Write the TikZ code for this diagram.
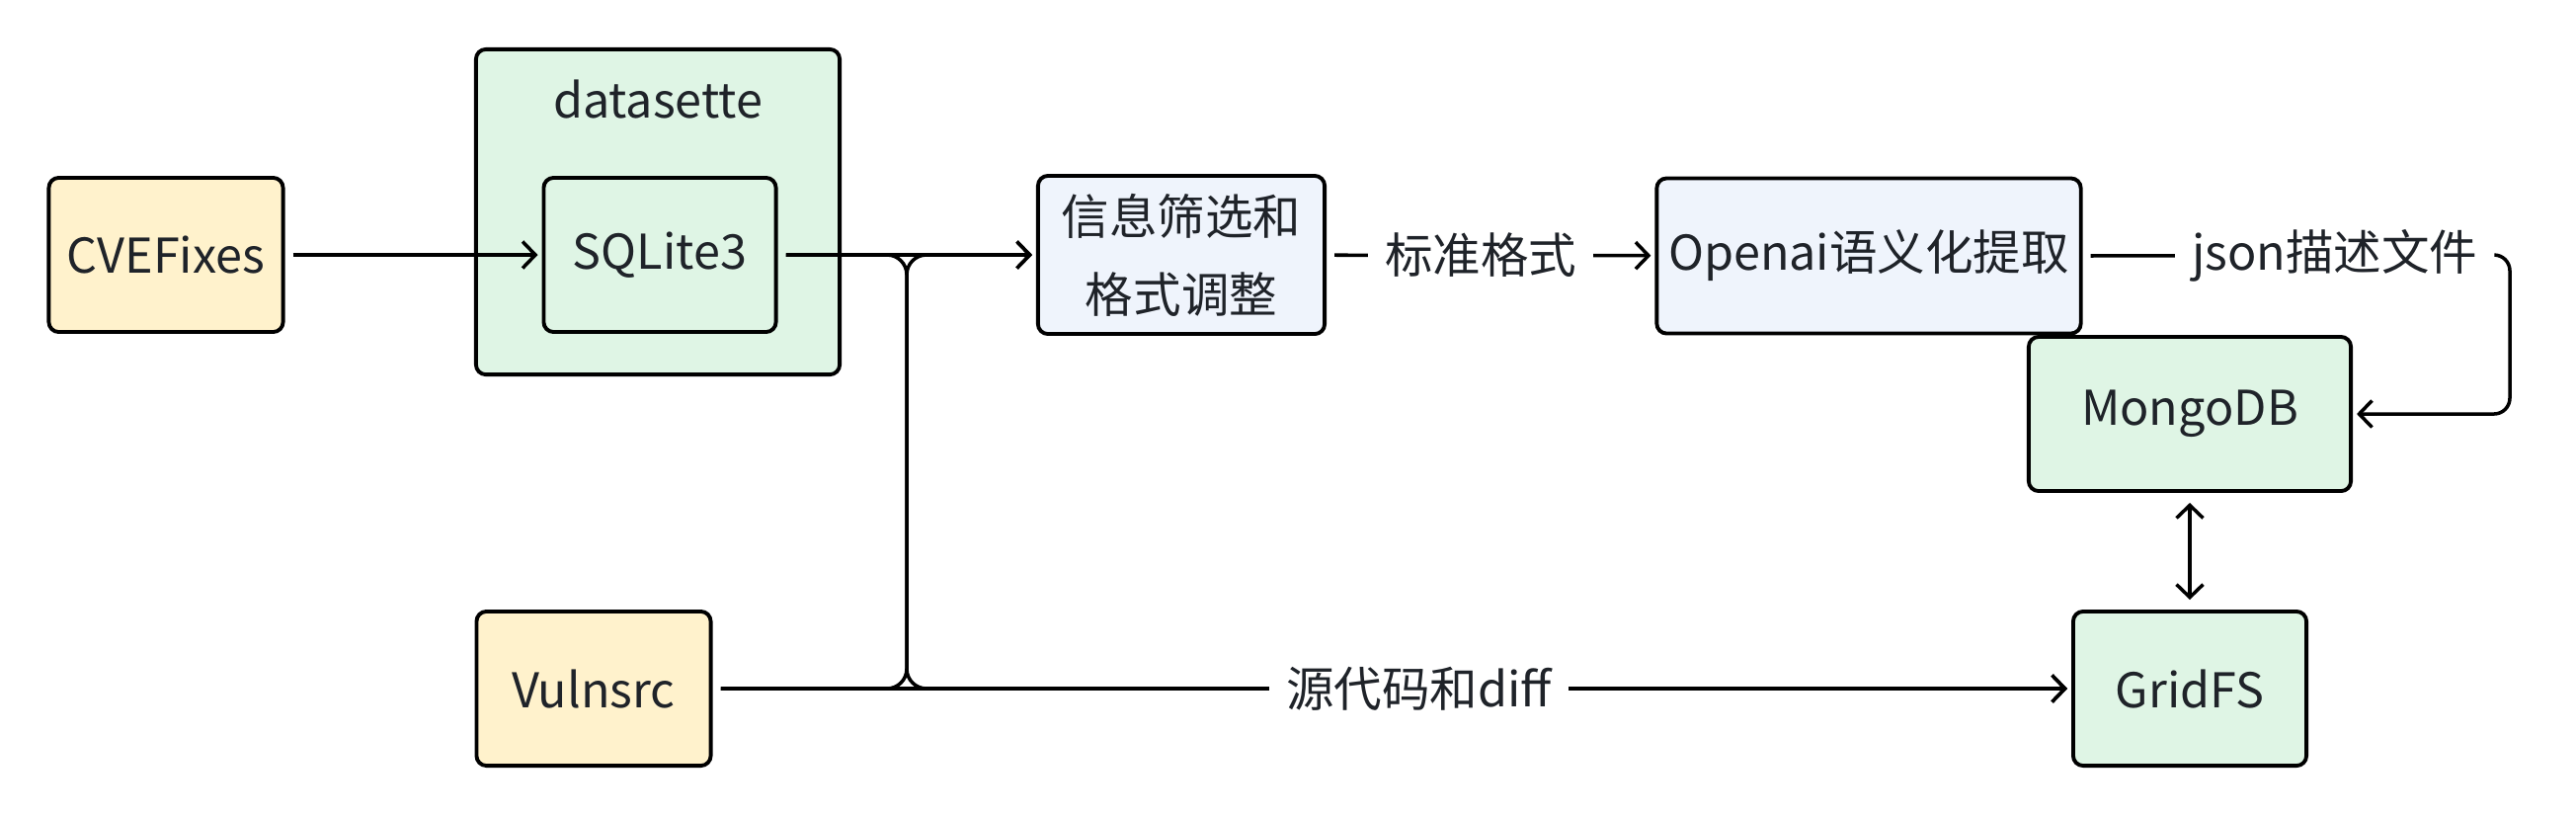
\documentclass[tikz,border=0pt]{standalone}
\usepackage{fontspec}
\setmainfont{Noto Sans CJK SC}
\usepackage{xcolor}
\usetikzlibrary{arrows.meta}

\definecolor{srcyellow}{HTML}{FFF2CC}
\definecolor{dbgreen}{HTML}{DFF5E5}
\definecolor{stepblue}{HTML}{EFF4FC}
\definecolor{inkgray}{HTML}{1F2329}

\tikzset{
  box/.style={draw=black, line width=1.1pt, rounded corners=0.1cm,
    minimum height=1.56cm, align=center, text=inkgray},
  srcbox/.style={box, fill=srcyellow, minimum width=2.37cm},
  dbbox/.style={box, fill=dbgreen},
  stepbox/.style={box, fill=stepblue},
  link/.style={->, line width=1pt, shorten <=0.08cm, shorten >=0.04cm},
  lbl/.style={fill=white, text=inkgray, inner xsep=0.17cm}
}

\begin{document}
\begin{tikzpicture}[x=0.01cm, y=-0.01cm,
    font=\fontsize{13.8pt}{22.5pt}\selectfont,
    >={Straight Barb[length=1.3mm, width=2.7mm, line width=1pt]}]
  \useasboundingbox (0,0) rectangle (2608,826);

  \node[dbbox, minimum width=3.68cm, minimum height=3.29cm] (ds) at (666,214.5) {};
  \node[text=inkgray] (dsname) at (666,100) {datasette};
  \node[srcbox] (cve) at (168,258) {CVEFixes};
  \node[dbbox, minimum width=2.35cm] (sql) at (668,258) {SQLite3};
  \node[stepbox, minimum width=2.9cm, minimum height=1.6cm] (filter) at (1196,258) {信息筛选和\\格式调整};
  \node[stepbox, minimum width=4.29cm, minimum height=1.57cm] (openai) at (1892,259) {Openai语义化提取};
  \node[dbbox, minimum width=3.26cm] (mongo) at (2217,419) {MongoDB};
  \node[dbbox, minimum width=2.36cm] (gridfs) at (2217,697) {GridFS};
  \node[srcbox] (vuln) at (601,697) {Vulnsrc};

  \coordinate (jt) at (918,258);
  \coordinate (jb) at (918,697);
  \coordinate (bt) at (2541,258);
  \coordinate (bb) at (2541,419);

  \draw[link] (cve) -- (sql);
  \draw[link, rounded corners=0.2cm] (sql.east) -- (jt) -- (jb) -- (gridfs.west);
  \draw[link, rounded corners=0.2cm] (vuln.east) -- (jb) -- (jt) -- (filter.west);
  \draw[link] (sql.east) -- (filter.west);
  \path[link] (filter) edge node[lbl, pos=0.47] {标准格式} (openai);
  \path[link] (vuln) edge node[lbl, pos=0.52] {源代码和diff} (gridfs);
  \draw[link, rounded corners=0.16cm] (openai.east) -- node[lbl, pos=0.59] {json描述文件} (bt) -- (bb) -- (mongo.east);
  \draw[link, <->, shorten <=0.1cm, shorten >=0.1cm] (mongo) -- (gridfs);
\end{tikzpicture}
\end{document}
